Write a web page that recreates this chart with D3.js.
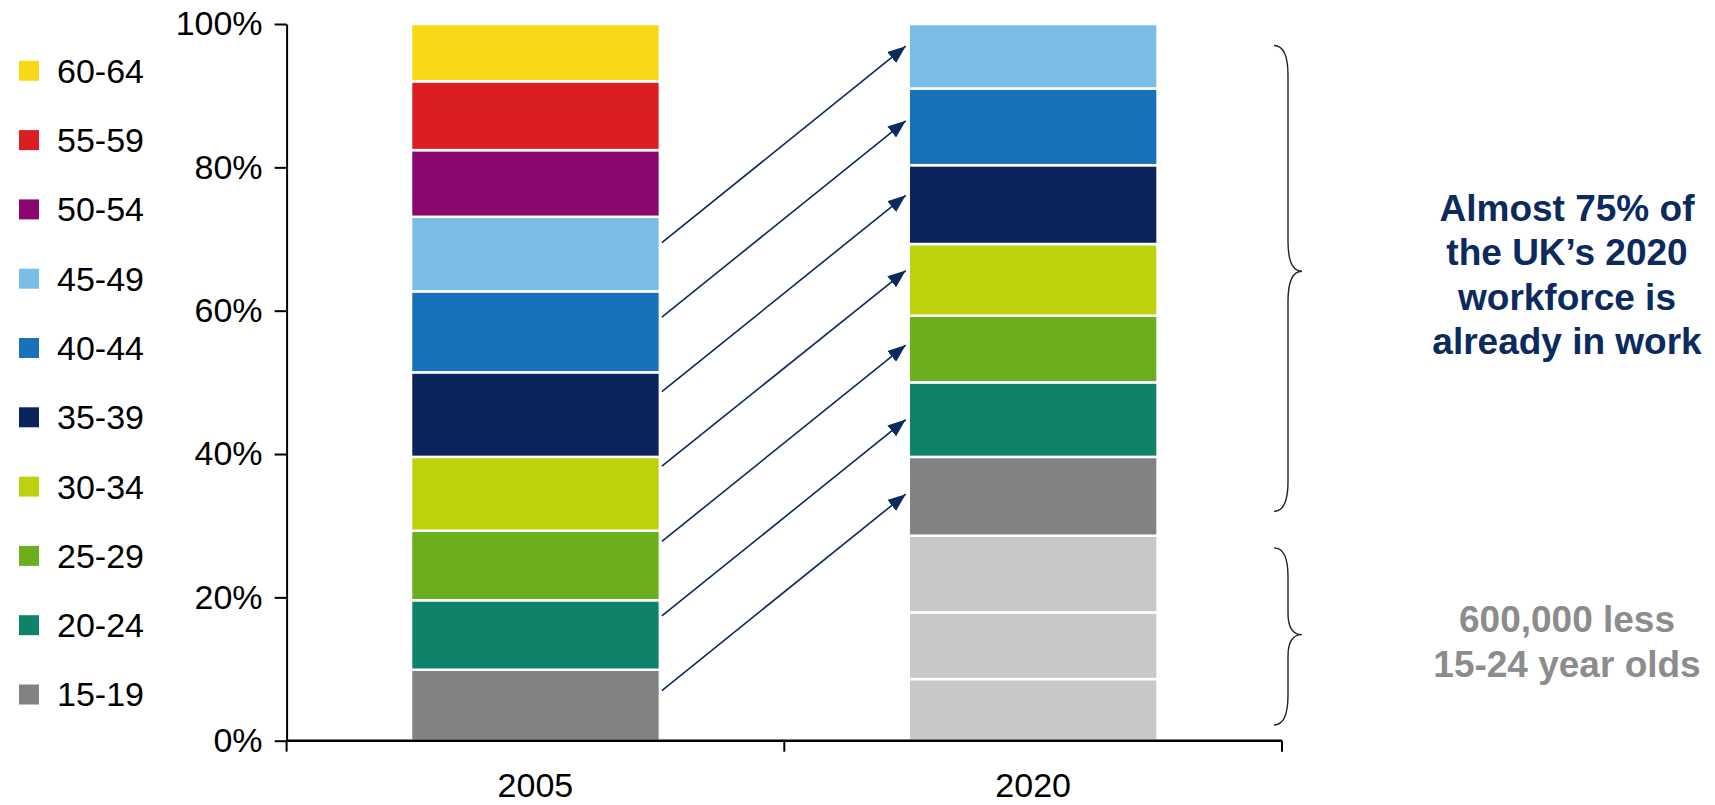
<!DOCTYPE html>
<html>
<head>
<meta charset="utf-8">
<script src="https://cdn.jsdelivr.net/npm/d3@7"></script>
<style>
  body { margin: 0; background: #fff; }
  text { font-family: "Liberation Sans", Arial, sans-serif; }
</style>
</head>
<body>
<div id="chart"></div>
<script>
// age groups, bottom of the stack first
const ages = ["15-19", "20-24", "25-29", "30-34", "35-39", "40-44", "45-49", "50-54", "55-59", "60-64"];
const ageColors = ["#828282", "#0f8369", "#6baf1e", "#bdd20d", "#0b245c", "#1871ba", "#7abde6", "#8b076e", "#db1e22", "#f9d915"];
const years = ["2005", "2020"];
const yTicks = [0, 20, 40, 60, 80, 100];

// share of workforce (%) in 2005, per age group
const share2005 = [9.9, 9.7, 9.7, 10.3, 11.8, 11.3, 10.4, 9.3, 9.6, 8.0];
// 2020: three groups of new entrants, then the 2005 cohorts 15 years older
const cohort2020 = ["new", "new", "new", "15-19", "20-24", "25-29", "30-34", "35-39", "40-44", "45-49"];
const share2020 = [8.6, 9.3, 10.7, 11.0, 10.4, 9.3, 10.0, 11.0, 10.7, 9.0];
const newColor = "#c8c8c8";

// arrows: start level on 2005 bar, end level on 2020 bar (%)
const arrowFrom = [7.0, 17.4, 27.8, 38.3, 48.7, 59.1, 69.5];
const arrowTo = [34.4, 44.8, 55.2, 65.6, 76.1, 86.5, 96.9];

// braces: [top, point, bottom] in %
const braceUpper = [97, 65.5, 32];
const braceLower = [26.9, 14.8, 2.2];
const noteUpper = ["Almost 75% of", "the UK\u2019s 2020", "workforce is", "already in work"];
const noteLower = ["600,000 less", "15-24 year olds"];

var W = 1715, H = 805;
var margin = {top: 24, right: 433, bottom: 64.3, left: 286.6},
    width = W - margin.left - margin.right,
    height = H - margin.top - margin.bottom;

var svg = d3.select("#chart").append("svg")
    .attr("width", W)
    .attr("height", H);

var defs = svg.append("defs");
defs.append("marker")
    .attr("id", "head")
    .attr("markerUnits", "userSpaceOnUse")
    .attr("viewBox", "0 0 18 14")
    .attr("refX", 18)
    .attr("refY", 7)
    .attr("markerWidth", 18)
    .attr("markerHeight", 14)
    .attr("orient", "auto")
  .append("path")
    .attr("d", "M0,0 L18,7 L0,14 Z")
    .attr("fill", "#0b2a5e");

var g = svg.append("g")
    .attr("transform", "translate(" + margin.left + "," + margin.top + ")");

var x = d3.scaleBand()
    .domain(years)
    .range([0, width])
    .paddingInner(0.5)
    .paddingOuter(0.25);

var y = d3.scaleLinear()
    .domain([0, 100])
    .range([height, 0]);

// stack the two bars
function stackUp(values, colorOf) {
    var acc = 0;
    return values.map(function (v, i) {
        var d = {y0: acc, y1: acc + v, color: colorOf(i)};
        acc += v;
        return d;
    });
}
var bars = [
    {year: "2005", segs: stackUp(share2005, function (i) { return ageColors[i]; })},
    {year: "2020", segs: stackUp(share2020, function (i) {
        var c = cohort2020[i];
        return c == "new" ? newColor : ageColors[ages.indexOf(c)];
    })}
];

bars.forEach(function (b) {
    g.append("g").selectAll("rect")
        .data(b.segs)
        .enter()
        .append("rect")
        .attr("x", x(b.year))
        .attr("width", x.bandwidth())
        .attr("y", function (d) { return y(d.y1); })
        .attr("height", function (d) { return y(d.y0) - y(d.y1); })
        .attr("fill", function (d) { return d.color; })
        .attr("stroke", "#fff")
        .attr("stroke-width", 2.5);
});

// y axis
var yAxis = g.append("g")
    .call(d3.axisLeft(y).tickValues(yTicks).tickSize(12).tickSizeOuter(0).tickPadding(12)
        .tickFormat(function (d) { return d + "%"; }));
yAxis.selectAll("text")
    .attr("font-size", 34)
    .attr("font-family", "'Liberation Sans', Arial, sans-serif")
    .attr("fill", "#000");
yAxis.selectAll("line, path").attr("stroke", "#000").attr("stroke-width", 2);

// x axis line with ticks between the categories
g.append("line")
    .attr("x1", 0).attr("x2", width)
    .attr("y1", height).attr("y2", height)
    .attr("stroke", "#000").attr("stroke-width", 2.5);
var bounds = [0, (x("2005") + x.bandwidth() + x("2020")) / 2, width];
g.selectAll(".xtick")
    .data(bounds)
    .enter()
    .append("line")
    .attr("x1", function (d) { return d; })
    .attr("x2", function (d) { return d; })
    .attr("y1", height)
    .attr("y2", height + 11)
    .attr("stroke", "#000").attr("stroke-width", 2);
g.selectAll(".xlabel")
    .data(years)
    .enter()
    .append("text")
    .attr("x", function (d) { return x(d) + x.bandwidth() / 2; })
    .attr("y", height + 56)
    .attr("text-anchor", "middle")
    .attr("font-size", 34)
    .attr("fill", "#000")
    .text(function (d) { return d; });

// arrows from 2005 cohorts to 2020
var ax1 = x("2005") + x.bandwidth() + 2,
    ax2 = x("2020") - 3;
g.append("g").selectAll("line")
    .data(arrowFrom)
    .enter()
    .append("line")
    .attr("x1", ax1)
    .attr("y1", function (d) { return y(d); })
    .attr("x2", ax2)
    .attr("y2", function (d, i) { return y(arrowTo[i]); })
    .attr("stroke", "#0b2a5e")
    .attr("stroke-width", 1.6)
    .attr("marker-end", "url(#head)");

// curly braces
function brace(b) {
    var x0 = width - 8, x1 = width + 6, x2 = width + 20, r = 30;
    var t = y(b[0]), m = y(b[1]), bt = y(b[2]);
    var rm = Math.min(r, (m - t) / 4, (bt - m) / 4);
    var rt = Math.min(r, (m - t) / 3);
    var rb = Math.min(r, (bt - m) / 3);
    return "M" + x0 + "," + t +
        " Q" + x1 + "," + t + " " + x1 + "," + (t + rt) +
        " L" + x1 + "," + (m - rm) +
        " Q" + x1 + "," + m + " " + x2 + "," + m +
        " Q" + x1 + "," + m + " " + x1 + "," + (m + rm) +
        " L" + x1 + "," + (bt - rb) +
        " Q" + x1 + "," + bt + " " + x0 + "," + bt;
}
[braceUpper, braceLower].forEach(function (b) {
    g.append("path")
        .attr("d", brace(b))
        .attr("fill", "none")
        .attr("stroke", "#222")
        .attr("stroke-width", 1.4);
});

// notes
var noteX = 1567 - margin.left;
g.append("text")
    .attr("text-anchor", "middle")
    .attr("font-size", 37)
    .attr("font-weight", "bold")
    .attr("fill", "#0b2a5e")
    .selectAll("tspan")
    .data(noteUpper)
    .enter()
    .append("tspan")
    .attr("x", noteX)
    .attr("y", function (d, i) { return 220.7 - margin.top + i * 44.5; })
    .text(function (d) { return d; });
g.append("text")
    .attr("text-anchor", "middle")
    .attr("font-size", 37)
    .attr("font-weight", "bold")
    .attr("fill", "#8c8c8c")
    .selectAll("tspan")
    .data(noteLower)
    .enter()
    .append("tspan")
    .attr("x", noteX)
    .attr("y", function (d, i) { return 632 - margin.top + i * 44.5; })
    .text(function (d) { return d; });

// legend, top group first
var legend = svg.append("g").selectAll("g")
    .data(ages.slice().reverse())
    .enter()
    .append("g")
    .attr("transform", function (d, i) { return "translate(19," + (70.8 + i * 69.3) + ")"; });
legend.append("rect")
    .attr("x", 0).attr("y", -10)
    .attr("width", 20).attr("height", 20)
    .attr("fill", function (d) { return ageColors[ages.indexOf(d)]; });
legend.append("text")
    .attr("x", 38)
    .attr("y", 0)
    .attr("dy", "0.35em")
    .attr("font-size", 34)
    .attr("fill", "#000")
    .text(function (d) { return d; });
</script>
</body>
</html>
